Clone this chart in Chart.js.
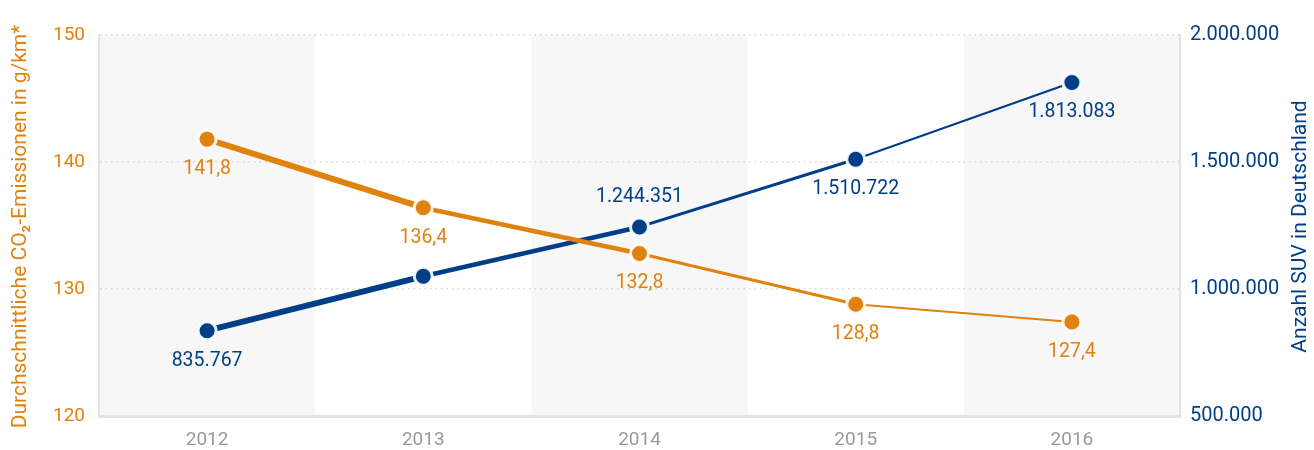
<!DOCTYPE html>
<html>
<head>
<meta charset="utf-8">
<script src="https://cdn.jsdelivr.net/npm/chart.js@4/dist/chart.umd.min.js"></script>
<style>
  html, body { margin: 0; padding: 0; background: #fff; }
  #wrap { width: 1314px; height: 450px; position: relative; }
</style>
</head>
<body>
<div id="wrap"><canvas id="chart" width="1314" height="450"></canvas></div>
<script>
// data
const years = ['2012', '2013', '2014', '2015', '2016']
const co2Values = [141.8, 136.4, 132.8, 128.8, 127.4]
const suvValues = [835767, 1050000, 1244351, 1510722, 1813083] // 2013 not labelled
const leftTicks = [120, 130, 140, 150]
const rightTicks = [500000, 1000000, 1500000, 2000000]

const orange = '#e0820f'
const blue = '#003f88'
const segWidths = [6, 4.5, 3, 2.2]

const fmtDe = (v, d) => v.toLocaleString('de-DE', { minimumFractionDigits: d, maximumFractionDigits: d })

// alternating column bands, drawn before the grid
const bandsPlugin = {
    id: 'bands',
    beforeDraw(chart) {
        const { ctx, chartArea, scales } = chart
        const x = scales.x
        const half = (x.getPixelForValue(1) - x.getPixelForValue(0)) / 2
        ctx.save()
        ctx.fillStyle = '#f7f7f7'
        years.forEach((y, i) => {
            if (i % 2 === 0) {
                const c = x.getPixelForValue(i)
                ctx.fillRect(c - half, chartArea.top, half * 2, chartArea.bottom - chartArea.top)
            }
        })
        ctx.restore()
    }
}

// value labels and axis titles
const labelPlugin = {
    id: 'labels',
    afterDatasetsDraw(chart) {
        const { ctx } = chart
        ctx.save()
        ctx.font = '19.5px Roboto'
        ctx.textAlign = 'center'
        ctx.textBaseline = 'middle'
        chart.data.datasets.forEach((ds, di) => {
            const meta = chart.getDatasetMeta(di)
            meta.data.forEach((pt, i) => {
                const pos = ds.labelPos[i]
                if (pos === 'none') return
                ctx.fillStyle = ds.borderColor
                const txt = di === 0 ? fmtDe(ds.data[i], 1) : fmtDe(ds.data[i], 0)
                ctx.fillText(txt, pt.x, pt.y + (pos === 'above' ? -30 : 30))
            })
        })
        ctx.restore()
    },
    afterDraw(chart) {
        const { ctx, chartArea } = chart
        const cy = (chartArea.top + chartArea.bottom) / 2 + 1
        ctx.save()
        ctx.font = '21px Roboto'
        ctx.textAlign = 'center'
        ctx.textBaseline = 'middle'
        ctx.translate(21, cy)
        ctx.rotate(-Math.PI / 2)
        ctx.fillStyle = orange
        ctx.fillText('Durchschnittliche CO₂-Emissionen in g/km*', 0, 0)
        ctx.restore()
        ctx.save()
        ctx.font = '21px Roboto'
        ctx.textAlign = 'center'
        ctx.textBaseline = 'middle'
        ctx.translate(1301, cy)
        ctx.rotate(-Math.PI / 2)
        ctx.fillStyle = blue
        ctx.fillText('Anzahl SUV in Deutschland', 0, 0)
        ctx.restore()
    }
}

const ctx = document.getElementById('chart').getContext('2d')
new Chart(ctx, {
    type: 'line',
    data: {
        labels: years,
        datasets: [{
            label: 'CO2',
            data: co2Values,
            yAxisID: 'y',
            borderColor: orange,
            backgroundColor: orange,
            pointBackgroundColor: orange,
            pointBorderColor: 'rgba(255,255,255,0.9)',
            pointBorderWidth: 3,
            pointRadius: 9,
            pointHoverRadius: 9,
            segment: { borderWidth: c => segWidths[c.p0DataIndex] },
            labelPos: ['below', 'below', 'below', 'below', 'below']
        }, {
            label: 'SUV',
            data: suvValues,
            yAxisID: 'y1',
            borderColor: blue,
            backgroundColor: blue,
            pointBackgroundColor: blue,
            pointBorderColor: 'rgba(255,255,255,0.9)',
            pointBorderWidth: 3,
            pointRadius: 9,
            pointHoverRadius: 9,
            segment: { borderWidth: c => segWidths[c.p0DataIndex] },
            labelPos: ['below', 'none', 'above', 'below', 'below']
        }]
    },
    options: {
        responsive: false,
        animation: false,
        layout: { padding: { top: 35, bottom: 0, left: 0, right: 0 } },
        plugins: { legend: { display: false }, tooltip: { enabled: false } },
        scales: {
            x: {
                offset: true,
                grid: { display: false, drawTicks: false },
                border: { color: '#e3e3e3', width: 3 },
                ticks: { color: '#9a9a9a', font: { family: 'Roboto', size: 19 }, padding: 13, maxRotation: 0 },
                afterFit: s => { s.height = 34 }
            },
            y: {
                position: 'left',
                min: 120, max: 150,
                afterBuildTicks: s => { s.ticks = leftTicks.map(v => ({ value: v })) },
                grid: { color: '#d6d6d6', drawTicks: false, lineWidth: 1.5 },
                border: { color: '#e3e3e3', width: 2, dash: [1.5, 4] },
                ticks: { color: orange, font: { family: 'Roboto', size: 19 }, padding: 14 },
                afterFit: s => { s.width = 99 }
            },
            y1: {
                position: 'right',
                min: 500000, max: 2000000,
                afterBuildTicks: s => { s.ticks = rightTicks.map(v => ({ value: v })) },
                grid: { display: false, drawTicks: false },
                border: { color: '#e3e3e3', width: 2 },
                ticks: { color: blue, font: { family: 'Roboto', size: 20 }, padding: 10, callback: v => fmtDe(v, 0) },
                afterFit: s => { s.width = 134 }
            }
        }
    },
    plugins: [bandsPlugin, labelPlugin]
})
</script>
</body>
</html>
